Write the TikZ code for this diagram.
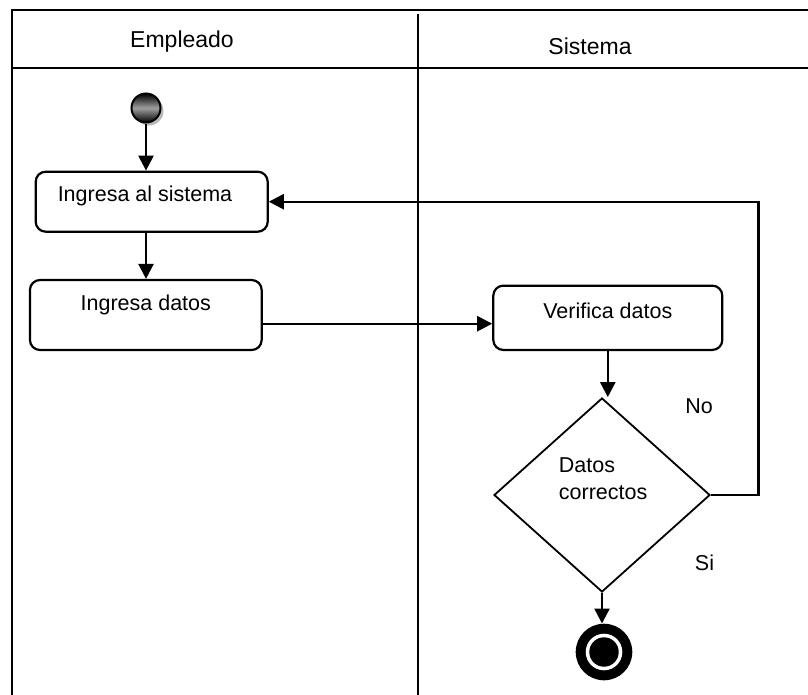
\documentclass[tikz,border=0pt]{standalone}
\usepackage{fontspec}
\setmainfont{Liberation Sans}
\usetikzlibrary{arrows.meta,shapes.geometric,shadows}
\tikzset{
  lane/.style={line width=2.3pt},
  actbox/.style={draw, line width=2.2pt, rounded corners=10pt, inner sep=0pt},
  arr/.style={line width=2.4pt, -{Triangle[length=15pt,width=15pt]}},
  lbl/.style={inner sep=0pt, font=\fontsize{21.5}{25}\selectfont},
  hdr/.style={inner sep=0pt, font=\fontsize{23}{27}\selectfont}
}
\begin{document}
\begin{tikzpicture}[x=1pt,y=-1pt]
\useasboundingbox (0,0) rectangle (808,694);
% swimlane frame
\draw[lane] (810,10) -- (11.7,10) -- (11.7,696);
\draw[lane] (11.7,68) -- (810,68);
\draw[lane] (417.7,14) -- (417.7,696);
\node[hdr] (h1) at (182,42) {Empleado};
\node[hdr] (h2) at (590,46) {Sistema};
% start
\node[circle, draw=black, line width=2pt, minimum size=29pt, inner sep=0pt,
      top color=black, bottom color=black, middle color=gray!75,
      drop shadow={shadow xshift=3pt, shadow yshift=-3pt, fill=gray!55, opacity=1}] (start) at (146,108) {};
% boxes
\node[actbox, minimum width=232pt, minimum height=60pt] (b1) at (151.7,201.7) {};
\node[lbl] (t1) at ([yshift=-25pt]b1.north -| 145,0) {Ingresa al sistema};
\node[actbox, minimum width=231.7pt, minimum height=70pt] (b2) at (145.8,315) {};
\node[lbl] (t2) at ([yshift=-26pt]b2.north) {Ingresa datos};
\node[actbox, minimum width=229pt, minimum height=64.3pt] (b3) at (607.8,317.8) {};
\node[lbl] (t3) at ([yshift=-26pt]b3.north) {Verifica datos};
% decision
\node[diamond, draw, line width=1.8pt, minimum width=216pt, minimum height=194pt, inner sep=0pt] (d) at (602,495) {};
\node[lbl, anchor=west] (t4) at (558.7,465) {Datos};
\node[lbl, anchor=west] (t5) at (558.7,493) {correctos};
\node[lbl] (no) at (699,406) {No};
\node[lbl] (si) at (704.5,562.7) {Si};
% end
\node[circle, fill=black, minimum size=56.6pt, inner sep=0pt] (end) at (604,652) {};
\fill[white] (end.center) circle (18.3pt);
\fill[black] (end.center) circle (14.7pt);
% connectors
\draw[arr] (start.south) -- (start.south |- b1.north);
\draw[arr] (b1.south -| start.center) -- (b2.north -| start.center);
\draw[arr] ([yshift=-8.7pt]b2.east) -- ([yshift=-8.7pt]b2.east -| b3.west);
\draw[arr] (b3.south) -- (b3.south |- d.north);
\draw[arr] (d.south) -- (d.south |- end.north);
\draw[arr] (d.east) -- ++(47.5,0) |- (b1.east);
\end{tikzpicture}
\end{document}
